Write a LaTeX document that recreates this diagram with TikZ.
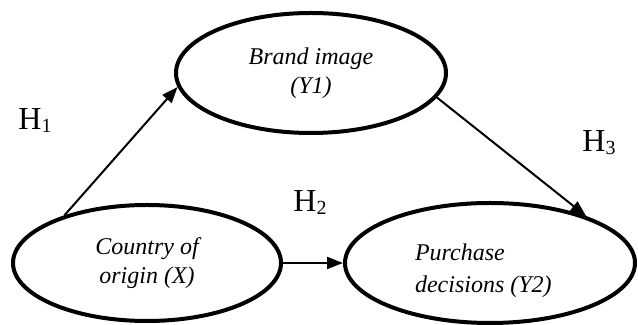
\documentclass[tikz,border=0pt]{standalone}
\usepackage{fontspec}
\setmainfont{Liberation Serif}
\usetikzlibrary{shapes.geometric,arrows.meta}
\tikzset{
  construct/.style={ellipse, draw, line width=2pt, inner sep=0pt,
    font=\itshape\fontsize{12}{14.5}\selectfont, align=center},
  path/.style={line width=1pt, -{Triangle[length=8pt,width=6pt]}},
  hyp/.style={font=\fontsize{16}{18}\selectfont, inner sep=0pt, anchor=base west}
}
\newcommand{\hlab}[1]{H\raisebox{-1.5pt}{\fontsize{10}{12}\selectfont #1}}
\begin{document}
\begin{tikzpicture}[x=0.5pt,y=-0.5pt]
  \useasboundingbox (0,0) rectangle (638,325);
  % constructs
  \node[construct, minimum width=135pt, minimum height=60pt] (img) at (311,73) {Brand image\\(Y1)};
  \node[construct, minimum width=134pt, minimum height=58pt] (coo) at (147,263) {Country of\\origin (X)};
  \node[construct, minimum width=145pt, minimum height=60pt] (pd) at (490,263) {};
  \node[font=\itshape\fontsize{12}{16}\selectfont, align=left, anchor=west] (pdt) at (408,271) {Purchase\\decisions (Y2)};
  % hypothesised paths
  \draw[path] (coo.150) -- (img.186);
  \draw[path] (img.-11) -- (pd.26);
  \draw[path] (coo.east) -- (pd.west);
  % hypothesis labels
  \node[hyp] (h1) at (18,130) {\hlab{1}};
  \node[hyp] (h2) at (293,212) {\hlab{2}};
  \node[hyp] (h3) at (582,152) {\hlab{3}};
\end{tikzpicture}
\end{document}
